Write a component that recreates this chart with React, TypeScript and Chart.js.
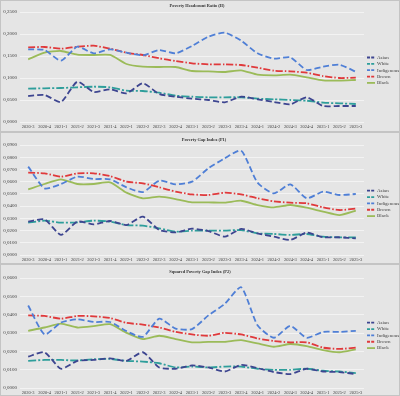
import { useEffect, useRef } from "react";
import { Chart, registerables } from "chart.js";
Chart.register(...registerables);

const quarters = ["2020-3","2020-4","2021-1","2021-2","2021-3","2021-4","2022-1","2022-2","2022-3","2022-4","2023-1","2023-2","2023-3","2023-4","2024-1","2024-2","2024-3","2024-4","2025-1","2025-2","2025-3"];
const groups = ["Asian", "White", "Indigenous", "Brown", "Black"];

const hAsian = [0.0591, 0.0614, 0.0455, 0.0916, 0.0682, 0.0743, 0.0652, 0.0880, 0.0636, 0.0575, 0.0530, 0.0500, 0.0448, 0.0575, 0.0516, 0.0455, 0.0402, 0.0561, 0.0364, 0.0364, 0.0364];
const hWhite = [0.0757, 0.0766, 0.0773, 0.0789, 0.0802, 0.0789, 0.0711, 0.0705, 0.0666, 0.0598, 0.0575, 0.0561, 0.0561, 0.0561, 0.0530, 0.0516, 0.0500, 0.0484, 0.0439, 0.0425, 0.0409];
const hIndigenous = [0.1652, 0.1636, 0.1393, 0.1711, 0.1561, 0.1652, 0.1575, 0.1516, 0.1636, 0.1561, 0.1727, 0.1939, 0.2030, 0.1848, 0.1561, 0.1439, 0.1470, 0.1182, 0.1257, 0.1302, 0.1143];
const hBrown = [0.1698, 0.1705, 0.1666, 0.1711, 0.1734, 0.1666, 0.1575, 0.1523, 0.1448, 0.1386, 0.1334, 0.1311, 0.1311, 0.1295, 0.1234, 0.1166, 0.1152, 0.1120, 0.1045, 0.1000, 0.1007];
const hBlack = [0.1425, 0.1575, 0.1614, 0.1530, 0.1523, 0.1523, 0.1318, 0.1257, 0.1250, 0.1250, 0.1159, 0.1152, 0.1136, 0.1175, 0.1075, 0.1061, 0.1075, 0.1016, 0.0948, 0.0939, 0.0955];

const p1Asian = [0.0273, 0.0292, 0.0164, 0.0273, 0.0251, 0.0278, 0.0245, 0.0314, 0.0205, 0.0185, 0.0215, 0.0196, 0.0150, 0.0213, 0.0177, 0.0150, 0.0123, 0.0183, 0.0145, 0.0145, 0.0136];
const p1White = [0.0265, 0.0281, 0.0265, 0.0267, 0.0281, 0.0273, 0.0245, 0.0240, 0.0218, 0.0191, 0.0199, 0.0199, 0.0199, 0.0204, 0.0177, 0.0172, 0.0164, 0.0172, 0.0150, 0.0145, 0.0145];
const p1Indigenous = [0.0723, 0.0545, 0.0581, 0.0641, 0.0622, 0.0619, 0.0554, 0.0515, 0.0608, 0.0578, 0.0600, 0.0709, 0.0791, 0.0854, 0.0592, 0.0504, 0.0578, 0.0464, 0.0518, 0.0491, 0.0499];
const p1Brown = [0.0674, 0.0668, 0.0641, 0.0668, 0.0668, 0.0646, 0.0600, 0.0586, 0.0554, 0.0518, 0.0496, 0.0491, 0.0510, 0.0496, 0.0464, 0.0439, 0.0428, 0.0423, 0.0390, 0.0368, 0.0379];
const p1Black = [0.0537, 0.0581, 0.0619, 0.0581, 0.0581, 0.0595, 0.0510, 0.0464, 0.0477, 0.0458, 0.0431, 0.0431, 0.0428, 0.0444, 0.0409, 0.0390, 0.0409, 0.0387, 0.0355, 0.0327, 0.0363];

const p2Asian = [0.0171, 0.0195, 0.0105, 0.0148, 0.0153, 0.0162, 0.0148, 0.0195, 0.0112, 0.0105, 0.0123, 0.0112, 0.0090, 0.0126, 0.0108, 0.0087, 0.0076, 0.0105, 0.0090, 0.0087, 0.0076];
const p2White = [0.0148, 0.0153, 0.0153, 0.0150, 0.0157, 0.0159, 0.0148, 0.0144, 0.0135, 0.0112, 0.0117, 0.0112, 0.0117, 0.0117, 0.0105, 0.0099, 0.0099, 0.0105, 0.0094, 0.0090, 0.0081];
const p2Indigenous = [0.0450, 0.0292, 0.0357, 0.0375, 0.0360, 0.0360, 0.0310, 0.0279, 0.0378, 0.0324, 0.0321, 0.0396, 0.0459, 0.0550, 0.0342, 0.0274, 0.0339, 0.0274, 0.0306, 0.0306, 0.0312];
const p2Brown = [0.0396, 0.0393, 0.0378, 0.0393, 0.0391, 0.0382, 0.0355, 0.0346, 0.0330, 0.0306, 0.0292, 0.0285, 0.0301, 0.0292, 0.0270, 0.0256, 0.0249, 0.0249, 0.0220, 0.0213, 0.0220];
const p2Black = [0.0312, 0.0330, 0.0351, 0.0330, 0.0337, 0.0348, 0.0301, 0.0267, 0.0285, 0.0267, 0.0249, 0.0252, 0.0252, 0.0261, 0.0243, 0.0225, 0.0240, 0.0229, 0.0207, 0.0195, 0.0211];

const titles = ["Poverty Headcount Ratio (H)", "Poverty Gap Index (P1)", "Squared Poverty Gap Index (P2)"];
const yMaxes = [0.25, 0.09, 0.06];
const ySteps = [0.05, 0.01, 0.01];

const seriesColors = ["#3d4590", "#2e9e9b", "#4f7fd6", "#e0393b", "#9bbb59"];
const seriesDash = [[6, 3], [8, 2, 2, 2], [6, 3], [7, 2, 1.5, 2], []];

const W = 400;
const H = 132;

type Cfg = {
  title: string; titleX: number; titleY: number; legendY: number;
  top: number; bottom: number; yMax: number; yStep: number; data: number[][];
};

const configs: Cfg[] = [
  { title: titles[0], titleX: 197, titleY: 5.5, legendY: 57.5, top: 12, bottom: 122, yMax: yMaxes[0], yStep: ySteps[0], data: [hAsian, hWhite, hIndigenous, hBrown, hBlack] },
  { title: titles[1], titleX: 204, titleY: 7.5, legendY: 58.7, top: 13, bottom: 123, yMax: yMaxes[1], yStep: ySteps[1], data: [p1Asian, p1White, p1Indigenous, p1Brown, p1Black] },
  { title: titles[2], titleX: 200, titleY: 7.5, legendY: 58.7, top: 14, bottom: 124, yMax: yMaxes[2], yStep: ySteps[2], data: [p2Asian, p2White, p2Indigenous, p2Brown, p2Black] },
];

const FONT = "'Liberation Serif', 'Times New Roman', serif";

function makeDecor(cfg: Cfg) {
  return {
    id: "decor",
    beforeDraw(chart: any) {
      const ctx = chart.ctx;
      ctx.save();
      ctx.fillStyle = "#e5e5e5";
      ctx.fillRect(0, 0, chart.width, chart.height);
      ctx.strokeStyle = "#c4c4c4";
      ctx.lineWidth = 1;
      ctx.strokeRect(0.5, 0.5, chart.width - 1, chart.height - 1);
      ctx.restore();
    },
    afterDraw(chart: any) {
      const ctx = chart.ctx;
      ctx.save();
      ctx.fillStyle = "#333333";
      ctx.font = `bold 4.4px ${FONT}`;
      ctx.textAlign = "center";
      ctx.textBaseline = "middle";
      ctx.fillText(cfg.title, cfg.titleX, cfg.titleY);
      ctx.font = `5px ${FONT}`;
      ctx.textAlign = "left";
      chart.data.datasets.forEach((ds: any, i: number) => {
        const y = cfg.legendY + i * 6.35;
        ctx.strokeStyle = ds.borderColor;
        ctx.lineWidth = 1.8;
        ctx.setLineDash(ds.borderDash && ds.borderDash.length ? [3, 1.2] : []);
        ctx.beginPath();
        ctx.moveTo(367, y);
        ctx.lineTo(375, y);
        ctx.stroke();
        ctx.setLineDash([]);
        ctx.fillStyle = "#404040";
        ctx.fillText(ds.label, 377, y);
      });
      ctx.restore();
    },
  };
}

function Panel({ cfg }: { cfg: Cfg }) {
  const ref = useRef<HTMLCanvasElement>(null);
  useEffect(() => {
    if (!ref.current) return;
    const chart = new Chart(ref.current, {
      type: "line",
      data: {
        labels: quarters,
        datasets: groups.map((g, i) => ({
          label: g,
          data: cfg.data[i],
          borderColor: seriesColors[i],
          backgroundColor: seriesColors[i],
          borderDash: seriesDash[i],
          borderWidth: 1.8,
          pointRadius: 0,
          tension: 0.2,
          fill: false,
        })),
      },
      options: {
        animation: false,
        responsive: false,
        maintainAspectRatio: false,
        layout: { padding: { top: cfg.top, right: W - 364, left: 0, bottom: 0 } },
        plugins: { legend: { display: false }, title: { display: false }, tooltip: { enabled: false } },
        scales: {
          x: {
            offset: true,
            grid: { display: false, drawTicks: false, tickLength: 0 },
            border: { display: false },
            ticks: { autoSkip: false, maxRotation: 0, minRotation: 0, padding: 2.5, color: "#404040", font: { family: FONT, size: 4.5 } },
            afterFit: (s: any) => { s.height = H - cfg.bottom; },
          },
          y: {
            min: 0,
            max: cfg.yMax,
            border: { display: false },
            grid: { color: "#f3f3f3", lineWidth: 1, drawTicks: false, tickLength: 0 },
            ticks: {
              stepSize: cfg.yStep,
              padding: 3,
              color: "#404040",
              font: { family: FONT, size: 5 },
              callback: (v: any) => Number(v).toFixed(4).replace(".", ","),
            },
            afterFit: (s: any) => { s.width = 20; },
          },
        },
      },
      plugins: [makeDecor(cfg)],
    } as any);
    return () => chart.destroy();
  }, [cfg]);
  return <canvas ref={ref} width={W} height={H} style={{ display: "block", width: W, height: H }} />;
}

export default function App() {
  return (
    <div style={{ position: "absolute", left: 0, top: 0, width: W, height: 396, background: "#e5e5e5" }}>
      {configs.map((c, i) => <Panel key={i} cfg={c} />)}
    </div>
  );
}
